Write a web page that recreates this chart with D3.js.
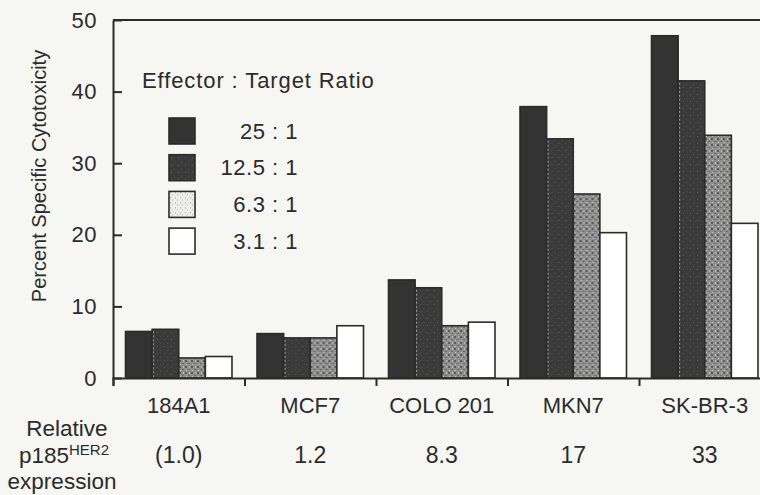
<!DOCTYPE html>
<html>
<head>
<meta charset="utf-8">
<script src="https://cdn.jsdelivr.net/npm/d3@7"></script>
<style>
  html, body { margin: 0; padding: 0; background: #f6f6f3; }
  svg { display: block; font-family: "Liberation Sans", Arial, Helvetica, sans-serif; }
</style>
</head>
<body>
<div id="chart"></div>
<script>
// Cytotoxicity per cell line, one bar per effector:target ratio
const cellLines = ['184A1', 'MCF7', 'COLO 201', 'MKN7', 'SK-BR-3'];
const her2Levels = ['(1.0)', '1.2', '8.3', '17', '33'];
const ratios = ['25 : 1', '12.5 : 1', '6.3 : 1', '3.1 : 1'];
const ratio25 = [6.5, 6.2, 13.7, 37.9, 47.8];
const ratio12 = [6.8, 5.6, 12.6, 33.4, 41.5];
const ratio6 = [2.8, 5.6, 7.3, 25.7, 33.9];
const ratio3 = [3.0, 7.3, 7.8, 20.3, 21.6];
const yTicks = [0, 10, 20, 30, 40, 50];

const seriesValues = [ratio25, ratio12, ratio6, ratio3];
const rows = cellLines.map((c, i) => ({ line: c, values: ratios.map((r, j) => ({ ratio: r, value: seriesValues[j][i] })) }));

const W = 760, H = 495;
const ink = '#2b2b2b';

const svg = d3.select('#chart').append('svg')
    .attr('width', W)
    .attr('height', H);

// Fill textures
const defs = svg.append('defs');
const speck = defs.append('pattern')
    .attr('id', 'speck').attr('patternUnits', 'userSpaceOnUse')
    .attr('width', 6).attr('height', 6);
speck.append('rect').attr('width', 6).attr('height', 6).attr('fill', '#8e8e8e');
speck.append('rect').attr('x', 0).attr('y', 0).attr('width', 2).attr('height', 2).attr('fill', '#5c5c5c');
speck.append('rect').attr('x', 3).attr('y', 3).attr('width', 2).attr('height', 1).attr('fill', '#6a6a6a');
speck.append('rect').attr('x', 4).attr('y', 0).attr('width', 1).attr('height', 2).attr('fill', '#b8b8b8');
speck.append('rect').attr('x', 1).attr('y', 4).attr('width', 1).attr('height', 1).attr('fill', '#c4c4c4');

const speckLight = defs.append('pattern')
    .attr('id', 'speckLight').attr('patternUnits', 'userSpaceOnUse')
    .attr('width', 5).attr('height', 5);
speckLight.append('rect').attr('width', 5).attr('height', 5).attr('fill', '#ededeb');
speckLight.append('rect').attr('x', 1).attr('y', 1).attr('width', 1).attr('height', 1).attr('fill', '#9a9a9a');
speckLight.append('rect').attr('x', 3).attr('y', 3).attr('width', 1).attr('height', 1).attr('fill', '#b0b0b0');

const dark2 = defs.append('pattern')
    .attr('id', 'dark2').attr('patternUnits', 'userSpaceOnUse')
    .attr('width', 7).attr('height', 7);
dark2.append('rect').attr('width', 7).attr('height', 7).attr('fill', '#3b3b3b');
dark2.append('rect').attr('x', 2).attr('y', 3).attr('width', 1).attr('height', 1).attr('fill', '#5a5a5a');
dark2.append('rect').attr('x', 5).attr('y', 0).attr('width', 1).attr('height', 1).attr('fill', '#4f4f4f');

const fills = ['#333333', 'url(#dark2)', 'url(#speck)', '#ffffff'];
const legendFills = ['#333333', 'url(#dark2)', 'url(#speckLight)', '#ffffff'];

// Scales
const plotLeft = 113, plotRight = 770.5, plotTop = 20, plotBottom = 378;
const x0 = d3.scaleBand().domain(cellLines).range([plotLeft, plotRight]).padding(0);
const x1 = d3.scaleBand().domain(ratios).range([0, x0.bandwidth()]).paddingInner(0).paddingOuter(0.47);
const y = d3.scaleLinear().domain([0, 50]).range([plotBottom, plotTop]);
const xEdge = d3.scaleLinear().domain([0, cellLines.length]).range([plotLeft, plotRight]);

// Bars
const groups = svg.append('g').selectAll('g')
    .data(rows)
    .enter()
    .append('g')
    .attr('transform', d => `translate(${x0(d.line)},0)`);

groups.selectAll('rect')
    .data(d => d.values)
    .enter()
    .append('rect')
    .attr('x', d => x1(d.ratio))
    .attr('y', d => y(d.value))
    .attr('width', x1.bandwidth())
    .attr('height', d => y(0) - y(d.value))
    .attr('fill', (d, i) => fills[i])
    .attr('stroke', ink)
    .attr('stroke-width', 1.6);

// Thin light seam on the 12.5:1 bars
groups.selectAll('line.seam')
    .data(d => [d.values[1]])
    .enter()
    .append('line')
    .attr('class', 'seam')
    .attr('x1', d => x1(d.ratio) + 1.5).attr('x2', d => x1(d.ratio) + 1.5)
    .attr('y1', d => y(d.value) + 2).attr('y2', y(0) - 1)
    .attr('stroke', '#9a9a9a')
    .attr('stroke-width', 1)
    .attr('stroke-dasharray', '2,2');

// Y axis, ticks pointing inwards
const yAxis = svg.append('g')
    .attr('transform', `translate(${plotLeft},0)`)
    .call(d3.axisLeft(y).tickValues(yTicks).tickSizeInner(-9).tickSizeOuter(0).tickPadding(16));
yAxis.selectAll('text')
    .style('font-size', '22px')
    .style('letter-spacing', '0.5px')
    .attr('fill', ink);

// X axis baseline with group boundary ticks
const xAxis = svg.append('g')
    .attr('transform', `translate(0,${plotBottom})`)
    .call(d3.axisBottom(xEdge).tickValues(d3.range(cellLines.length + 1)).tickSize(8).tickFormat(''));

const xLabels = svg.append('g')
    .attr('transform', `translate(0,${plotBottom})`)
    .call(d3.axisBottom(x0).tickSize(0).tickPadding(19));
xLabels.select('.domain').remove();
xLabels.selectAll('text')
    .style('font-size', '22px')
    .attr('fill', ink);

svg.selectAll('.domain, .tick line')
    .attr('stroke', ink)
    .attr('stroke-width', 2);

// Top frame
svg.append('line')
    .attr('x1', plotLeft).attr('x2', plotRight)
    .attr('y1', plotTop).attr('y2', plotTop)
    .attr('stroke', ink).attr('stroke-width', 2);

// Relative HER2 expression row
svg.append('g').selectAll('text')
    .data(cellLines)
    .enter()
    .append('text')
    .attr('x', d => x0(d) + x0.bandwidth() / 2)
    .attr('y', 455)
    .attr('dy', '0.35em')
    .attr('text-anchor', 'middle')
    .attr('fill', ink)
    .style('font-size', '23px')
    .text((d, i) => her2Levels[i]);

const rowLabel = svg.append('g')
    .attr('fill', ink)
    .attr('text-anchor', 'middle')
    .style('font-size', '22.5px');
rowLabel.append('text').attr('x', 67).attr('y', 436).text('Relative');
const p185 = rowLabel.append('text').attr('x', 64).attr('y', 463).text('p185');
p185.append('tspan').attr('dy', -8).style('font-size', '15px').text('HER2');
rowLabel.append('text').attr('x', 62).attr('y', 489).text('expression');

// Y axis title
svg.append('text')
    .attr('transform', 'translate(46,176) rotate(-90)')
    .attr('text-anchor', 'middle')
    .attr('fill', ink)
    .style('font-size', '20px')
    .text('Percent Specific Cytotoxicity');

// Legend
const legend = svg.append('g');
legend.append('text')
    .attr('x', 142).attr('y', 88)
    .attr('fill', ink)
    .style('font-size', '22px')
    .style('letter-spacing', '0.9px')
    .text('Effector : Target Ratio');

const legendItems = legend.selectAll('g.item')
    .data(ratios)
    .enter()
    .append('g')
    .attr('class', 'item')
    .attr('transform', (d, i) => `translate(169,${118 + i * 36.7})`);

legendItems.append('rect')
    .attr('width', 26).attr('height', 26)
    .attr('fill', (d, i) => legendFills[i])
    .attr('stroke', ink)
    .attr('stroke-width', 1.6);

legendItems.append('text')
    .attr('x', 129).attr('y', 13)
    .attr('dy', '0.35em')
    .attr('text-anchor', 'end')
    .attr('fill', ink)
    .style('font-size', '22px')
    .style('letter-spacing', '0.5px')
    .text(d => d);
</script>
</body>
</html>
